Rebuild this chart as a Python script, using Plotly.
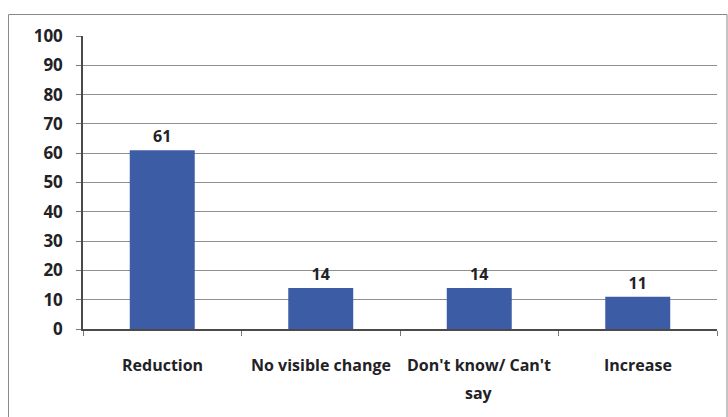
import plotly.graph_objects as go

# Survey responses (percent)
categories = ["Reduction", "No visible change", "Don't know/ Can't<br>say", "Increase"]
values = [61, 14, 14, 11]
y_ticks = [0, 10, 20, 30, 40, 50, 60, 70, 80, 90, 100]

W, H = 728, 417
L, R, T, B = 83, 11, 36, 88
pw, ph = W - L - R, H - T - B

TEXT = "#222226"
FONT = "Open Sans"


def px_x(x):
    return (x - L) / pw


def px_y(y):
    return (H - B - y) / ph


fig = go.Figure()
fig.add_trace(go.Bar(
    x=categories,
    y=values,
    marker=dict(color="#3C5CA6", line=dict(width=0)),
    width=0.41,
    text=[str(v) for v in values],
    textposition="outside",
    textfont=dict(family=FONT, size=16, color=TEXT, weight="bold"),
    cliponaxis=False,
))

# category labels drawn as annotations so the wrapped line gets wider spacing
line_y = [365, 393]
for cat in categories:
    for i, part in enumerate(cat.split("<br>")):
        fig.add_annotation(
            x=cat, xref="x", y=px_y(line_y[i]), yref="paper",
            text=part, showarrow=False, xanchor="center", yanchor="middle",
            font=dict(family=FONT, size=16, color=TEXT, weight="bold"),
        )

# outer chart frame
fig.add_shape(type="rect", xref="paper", yref="paper",
              x0=px_x(8.5), x1=px_x(727), y0=px_y(420), y1=px_y(14.5),
              line=dict(color="#8a8a8a", width=1), fillcolor="rgba(0,0,0,0)",
              layer="below")

fig.update_layout(
    width=W, height=H,
    margin=dict(l=L, r=R, t=T, b=B),
    paper_bgcolor="white",
    plot_bgcolor="white",
    showlegend=False,
    font=dict(family=FONT, color=TEXT),
)
fig.update_yaxes(
    range=[0, 100],
    tickvals=y_ticks,
    showgrid=True, gridcolor="#8f8f8f", gridwidth=1,
    showline=True, linecolor="#4a4a4a", linewidth=1.5,
    ticks="outside", ticklen=5, tickcolor="#777777",
    ticklabelstandoff=10,
    tickfont=dict(family=FONT, size=17, color=TEXT, weight="bold"),
    zeroline=False,
)
fig.update_xaxes(
    showline=True, linecolor="#4a4a4a", linewidth=1.5,
    ticks="outside", ticklen=5, tickcolor="#777777",
    tickson="boundaries",
    showticklabels=False,
)

fig.write_html("out.html")
